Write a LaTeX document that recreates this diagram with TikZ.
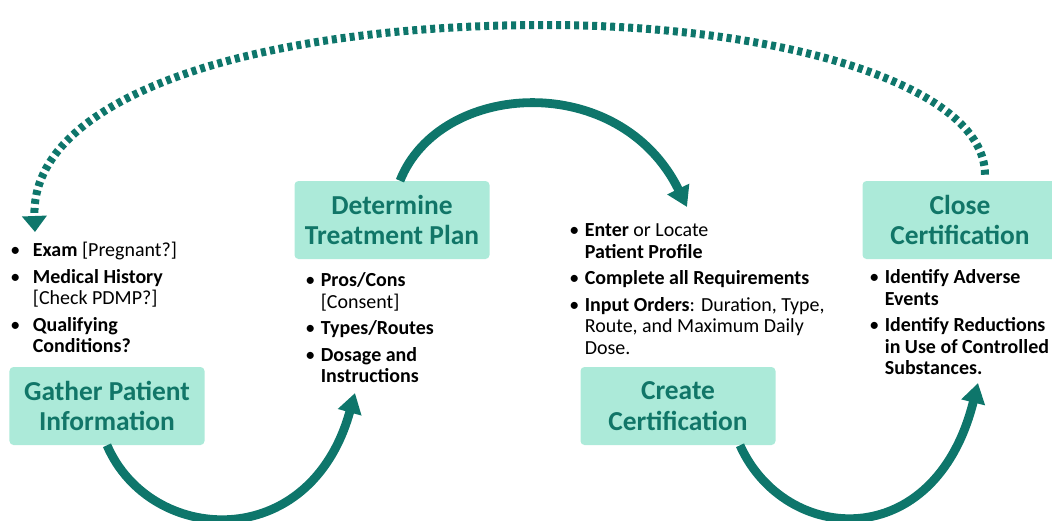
\documentclass[tikz,border=0pt]{standalone}
\usepackage{fontspec}
\setmainfont{Carlito}
\usetikzlibrary{arrows.meta, positioning, calc}
\definecolor{arrowteal}{RGB}{14,118,107}
\definecolor{boxfill}{RGB}{172,234,217}
\definecolor{boxtext}{RGB}{17,118,104}

\begin{document}
\begin{tikzpicture}[
                                        x=0.25mm, y=-0.25mm,
                                        box/.style={rectangle, rounded corners=1mm, fill=boxfill, text=boxtext, minimum width=48.75mm, minimum height=19.5mm, align=center, font=\fontsize{19.5}{21.5}\selectfont\bfseries},
                                        list/.style={anchor=north west, inner sep=0pt, align=left, font=\fontsize{14.2}{15.4}\selectfont},
                                        flow/.style={draw=arrowteal, line width=2.2mm, -{Triangle[length=5mm, width=5.8mm]}},
                                        back/.style={draw=arrowteal, line width=2mm, dash pattern=on 1.25mm off 1mm, -{Triangle[length=4mm, width=6mm]}}
                                ]
                                \useasboundingbox (0,0) rectangle (1052,520);
                                \node [box] (gather) at (107,406) {Gather Patient\\Information};
                                \node [box] (plan) at (392,220) {Determine\\Treatment Plan};
                                \node [box] (create) at (678,406) {Create\\Certification};
                                \node [box] (close) at (960,220) {Close\\Certification};
                                \node [list] (gl) at (10,241) {\begin{tabular}{@{}l@{\hspace{9pt}}l@{}}
                                                \textbullet & \textbf{Exam} [Pregnant?]\\[3.5pt]
                                                \textbullet & \textbf{Medical History}\\
                                                            & [Check PDMP?]\\[3.5pt]
                                                \textbullet & \textbf{Qualifying}\\
                                                            & \textbf{Conditions?}
                                        \end{tabular}};
                                \node [list] (pl) at (305,271) {\begin{tabular}{@{}l@{\hspace{4pt}}l@{}}
                                                \textbullet & \textbf{Pros/Cons}\\
                                                            & [Consent]\\[3.5pt]
                                                \textbullet & \textbf{Types/Routes}\\[3.5pt]
                                                \textbullet & \textbf{Dosage and}\\
                                                            & \textbf{Instructions}
                                        \end{tabular}};
                                \node [list] (cl) at (569,221) {\begin{tabular}{@{}l@{\hspace{4pt}}l@{}}
                                                \textbullet & \textbf{Enter} or Locate\\
                                                            & \textbf{Patient Profile}\\[3.5pt]
                                                \textbullet & \textbf{Complete all Requirements}\\[3.5pt]
                                                \textbullet & \textbf{Input Orders}: Duration, Type,\\
                                                            & Route, and Maximum Daily\\
                                                            & Dose.
                                        \end{tabular}};
                                \node [list] (sl) at (869,268) {\begin{tabular}{@{}l@{\hspace{4pt}}l@{}}
                                                \textbullet & \textbf{Identify Adverse}\\
                                                            & \textbf{Events}\\[3.5pt]
                                                \textbullet & \textbf{Identify Reductions}\\
                                                            & \textbf{in Use of Controlled}\\
                                                            & \textbf{Substances.}
                                        \end{tabular}};
                                % arrow ends
                                \coordinate (t1) at (355,393);
                                \coordinate (t2) at (687,207);
                                \coordinate (t3) at (978,383);
                                \coordinate (t4) at (35,232);
                                \draw [flow] (gather.south) .. controls (150,545) and (310,555) .. (t1);
                                \draw [flow] ([xshift=2mm]plan.north) .. controls (440,80) and (620,70) .. (t2);
                                \draw [flow] ([xshift=15.5mm]create.south) .. controls (785,545) and (935,555) .. (t3);
                                \draw [back] ([xshift=6.25mm, yshift=1.5mm]close.north) .. controls (985,85) and (780,25) .. (545,25)
                                        .. controls (260,25) and (30,95) .. (t4);
                        \end{tikzpicture}
\end{document}
